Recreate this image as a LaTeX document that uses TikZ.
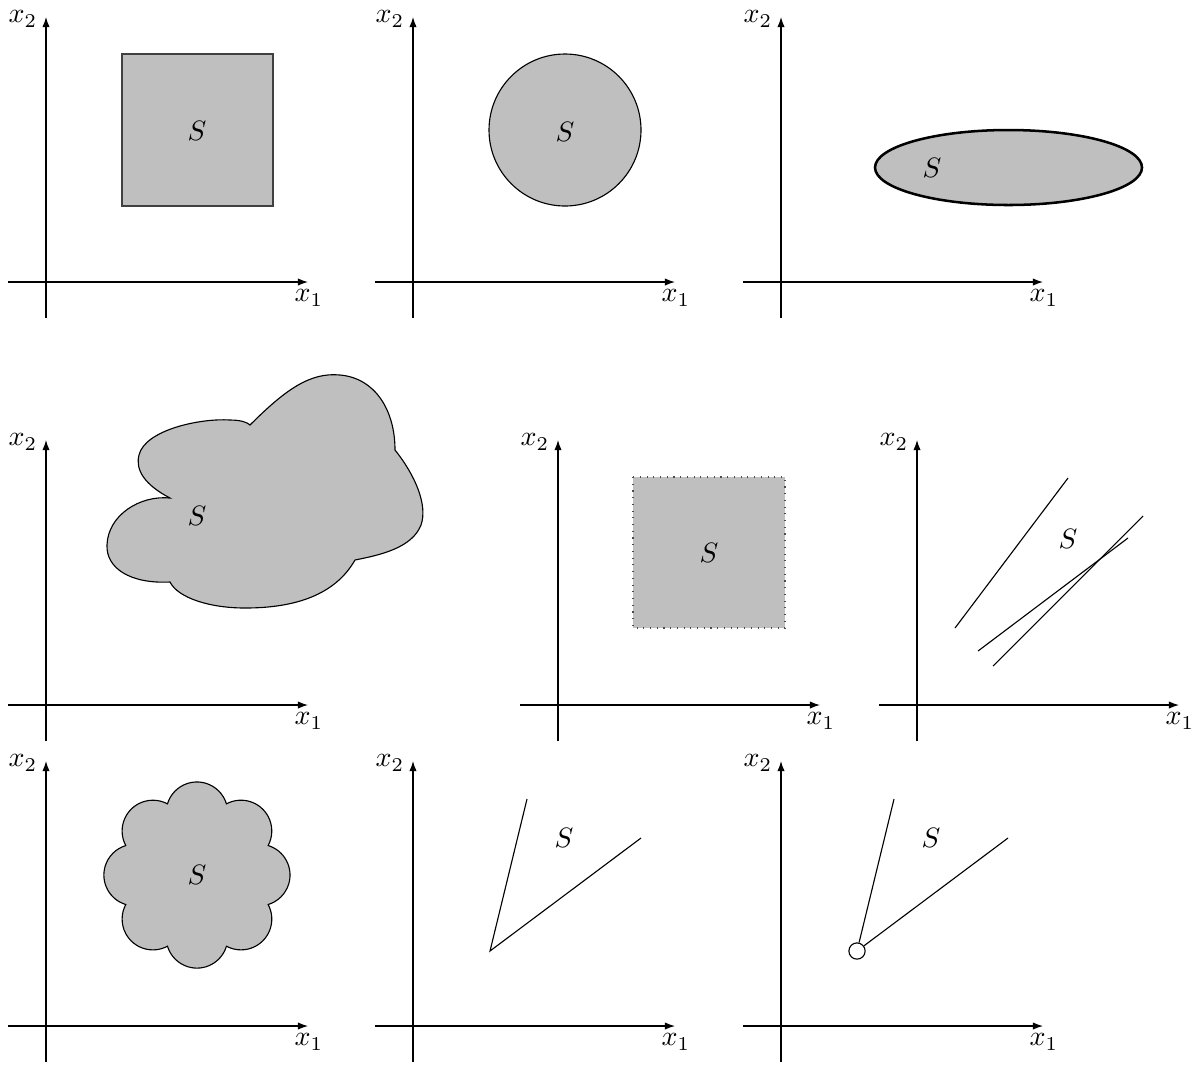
\documentclass[tikz,border=0pt]{standalone}
\usetikzlibrary{arrows.meta}
\begin{document}
\begin{tikzpicture}[x=0.35714pt,y=-0.35714pt,
  axis/.style={-{Latex[length=3.6pt,width=2.6pt]}},
  region/.style={fill=lightgray,draw=black},
  lbl/.style={inner sep=0pt}]
\useasboundingbox (0,0) rectangle (1198,1066);
% axes
\foreach \n/\ox/\oy in {a/46/282,b/413/282,c/781/282,d/46/705,e/558/705,f/917/705,g/46/1026,h/413/1026,i/781/1026}{
  \coordinate (\n xs) at (\ox-38,\oy);
  \coordinate (\n xe) at (\ox+262,\oy);
  \coordinate (\n ys) at (\ox,\oy+36);
  \coordinate (\n ye) at (\ox,\oy-265);
  \draw[axis] (\n xs) -- (\n xe);
  \draw[axis] (\n ys) -- (\n ye);
  \node[lbl] (\n x1) at (\ox+263,\oy+16) {$x_1$};
  \node[lbl] (\n x2) at (\ox-23,\oy-263) {$x_2$};
}
% panel 1: square
\draw[fill=lightgray,draw=black!75] (122,54) rectangle (273,206);
\node[lbl] (s1) at (197,131) {$S$};
% panel 2: circle
\draw[region] (565,130) circle[radius=76];
\node[lbl] (s2) at (565,132) {$S$};
% panel 3: ellipse
\draw[region,line width=0.9pt] (1008.5,167.5) ellipse[x radius=133.5,y radius=37.5];
\node[lbl] (s3) at (932,168) {$S$};
% panel 4: cloud
\draw[region] (250,425) .. controls (285,390) and (310,372) .. (340,375)
  .. controls (375,378) and (395,410) .. (395,450)
  .. controls (415,475) and (428,505) .. (421,525)
  .. controls (412,548) and (380,555) .. (355,560)
  .. controls (335,595) and (295,608) .. (245,608)
  .. controls (210,608) and (178,598) .. (170,582)
  .. controls (130,584) and (106,568) .. (107,545)
  .. controls (108,515) and (140,495) .. (170,498)
  .. controls (145,485) and (135,470) .. (139,455)
  .. controls (145,430) and (200,418) .. (230,420)
  .. controls (240,420) and (247,422) .. (250,425) -- cycle;
\node[lbl] (s4) at (197,516) {$S$};
% panel 5: dotted square
\draw[fill=lightgray,draw=black!70,dotted] (633,477) rectangle (785,628);
\node[lbl] (s5) at (709,553) {$S$};
% panel 6: lines
\coordinate (l1a) at (955,628); \coordinate (l1b) at (1068,478);
\coordinate (l2a) at (978,651); \coordinate (l2b) at (1128,538);
\coordinate (l3a) at (993,666); \coordinate (l3b) at (1143,516);
\draw (l1a) -- (l1b);
\draw (l2a) -- (l2b);
\draw (l3a) -- (l3b);
\node[lbl] (s6) at (1068,539) {$S$};
% panel 7: flower
\draw[region] ({197+77*cos(22.5)},{875-77*sin(22.5)})
  \foreach \k in {0,...,7}{ arc[start angle={45*\k-73.2}, end angle={45*\k+73.2}, radius=30.8] } -- cycle;
\node[lbl] (s7) at (197,875) {$S$};
% panel 8: cone
\coordinate (c8) at (490,951);
\coordinate (c8a) at (527,799);
\coordinate (c8b) at (641,838);
\draw (c8a) -- (c8) -- (c8b);
\node[lbl] (s8) at (564,838) {$S$};
% panel 9: cone without apex
\node[circle,draw,fill=white,inner sep=0pt,minimum size=5.8pt] (c9) at (857,951) {};
\coordinate (c9a) at (894,799);
\coordinate (c9b) at (1008,838);
\draw (c9) -- (c9a);
\draw (c9) -- (c9b);
\node[lbl] (s9) at (931,838) {$S$};
\end{tikzpicture}
\end{document}
